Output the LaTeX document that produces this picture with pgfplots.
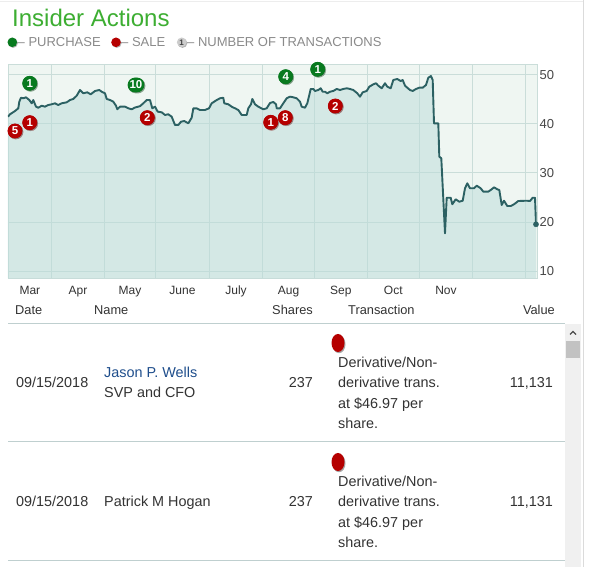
\documentclass[border=0pt]{standalone}
\usepackage{fontspec}
\setmainfont{Liberation Sans}
\usepackage{pgfplots}
\pgfplotsset{compat=1.18}
\usepackage{pgfplotstable}
\usetikzlibrary{shadows}
\definecolor{titlegreen}{HTML}{3DAE32}
\definecolor{leggray}{HTML}{8A8A8A}
\definecolor{buygreen}{HTML}{087A1F}
\definecolor{sellred}{HTML}{B50000}
\definecolor{linecol}{HTML}{2C6163}
\definecolor{plotbg}{HTML}{EFF6F2}
\definecolor{fillc}{HTML}{BBDCDA}
\definecolor{gridc}{HTML}{CADDD9}
\definecolor{sepc}{HTML}{BFCFCF}
\definecolor{txt}{HTML}{333333}
\definecolor{namblue}{HTML}{1F4E8C}
\tikzset{mknode/.style={rounded corners=7.4pt, minimum height=14.8pt, minimum width=14.8pt,
     inner xsep=2pt, inner ysep=0pt, text=white,
     font=\bfseries\fontsize{11.5}{12}\selectfont,
     drop shadow={shadow xshift=0.8pt, shadow yshift=-0.8pt, opacity=0.35, fill=black}}}

\pgfplotstableread{
x y
8 41.44
10 41.93
15 42.60
18.3 43.15
19.3 44.50
21 45.31
23.3 45.19
26 45.39
29.3 44.84
31.7 44.17
33.3 44.84
36 43.48
38.3 43.27
41.7 43.68
45 43.48
48.3 43.82
51.7 43.97
55 44.17
58.3 43.82
61.7 44.17
66.7 44.37
70 44.84
73.3 45.05
76.7 45.72
80 46.88
83.3 46.21
87.3 46.41
90.7 46.00
95 46.68
99.3 46.88
101.7 46.53
105 46.21
106.7 45.05
110 44.84
113.3 44.50
116 43.68
117.3 42.95
120 43.48
125 43.48
128.3 43.15
131.7 42.95
135 43.31
140 43.58
143.3 44.17
146.7 44.84
150 44.84
152.3 43.15
155 43.48
157.7 42.46
161.7 42.34
165 41.79
168.3 41.93
171.7 41.44
175 39.75
178.3 39.75
181 40.42
184.3 40.56
188.3 40.09
191.7 41.24
193.3 43.15
196.7 43.15
200 42.81
205 42.81
209 43.15
211.7 44.17
216.7 44.84
220 45.19
223.3 45.31
224.3 44.17
228.3 43.97
231.7 43.48
235 43.15
238.3 42.81
241.7 41.79
246.7 41.79
248.3 43.15
251 43.97
252.3 45.05
255 43.97
258.3 43.48
263.3 42.95
266.7 43.15
270 44.23
273.3 44.44
276 43.97
276.7 43.15
280 43.15
283.3 44.17
286.7 45.19
290 45.52
293.3 45.39
296.7 45.19
300 44.50
301.7 43.48
305 43.27
307.3 44.17
309.3 45.86
310.7 47.09
313.3 47.09
315 46.68
318.3 46.88
320.7 47.23
322.7 46.53
325 46.53
327.3 46.21
330 46.53
333.3 46.68
336.7 47.09
340 46.88
343.3 47.09
346.7 47.23
350 47.09
353.3 46.88
357.3 46.21
360 45.52
362.7 46.41
366.7 46.68
369.3 47.55
373.3 48.04
376 48.25
378.3 47.76
381.7 47.23
385 48.25
387.3 47.55
390.7 47.23
393.3 48.92
397.3 49.12
400.7 48.71
402.7 48.92
405 47.76
407.3 47.35
410 46.88
412.7 46.68
416 47.09
419.3 47.35
422.7 47.35
426 47.90
428.3 49.39
431 49.73
432.7 48.92
434 40.09
438.3 40.09
439.3 33.29
441.3 32.96
445 17.68
446.7 24.93
450.7 24.93
452.3 23.59
455.7 24.61
459.3 24.12
462.7 24.32
465 26.85
467.3 27.87
470 26.85
474 26.85
476.7 27.38
480.7 26.85
483.3 26.16
488.3 26.16
491.7 26.65
494 27.05
497.3 26.65
499.3 26.50
501.7 23.45
504 24.32
507.3 23.24
510.7 23.24
514 23.59
518.3 24.26
526.7 24.32
530 24.26
532.7 24.93
535 24.93
536 19.51
}\pricedata

\pgfplotstableread{
x y n
29.7 48.25 1
136 47.90 10
285.7 49.59 4
317.7 51.10 1
}\buys

\pgfplotstableread{
x y n
15 38.53 5
29.7 40.22 1
147.3 41.24 2
270.7 40.30 1
285.3 41.24 8
335.3 43.62 2
}\sells

\begin{document}
\begin{tikzpicture}
\fill[white] (0,0) rectangle (589pt,567pt);
\path[use as bounding box] (0,0) rectangle (589pt,567pt);

\begin{axis}[
  at={(8pt,288.7pt)}, anchor=south west,
  scale only axis, width=528.7pt, height=214.3pt,
  xmin=8, xmax=536.7, ymin=8.51, ymax=52.18,
  axis background/.style={fill=plotbg},
  axis line style={draw=gridc},
  grid=major, major grid style={draw=gridc, line width=0.8pt},
  xtick={8,51.7,104.3,155.7,209.3,262.7,314.3,367.3,419.3,472.7,525.7},
  xticklabels={Mar,Apr,May,June,July,Aug,Sep,Oct,Nov,{}},
  x tick label as interval,
  ytick={10,20,30,40,50},
  yticklabel pos=right,
  major tick length=0pt,
  tick style={draw=none},
  xticklabel style={font=\fontsize{12}{14}\selectfont, text=txt, yshift=-4.2pt},
  yticklabel style={font=\fontsize{13}{15}\selectfont, text=txt!90, anchor=west, xshift=-0.5pt},
  /pgf/number format/assume math mode=true,
  clip mode=individual,
]
\addplot[draw=none, fill=fillc, fill opacity=0.5] table[x=x,y=y]{\pricedata} \closedcycle;
\addplot[linecol, line width=1.9pt, line join=round, mark=none] table[x=x,y=y]{\pricedata};
\addplot[only marks, mark=*, mark size=2.6pt, color=linecol] coordinates {(536,19.51)};

\addplot[only marks, mark=*, mark size=7pt, color=buygreen,
  point meta=explicit symbolic,
  nodes near coords, nodes near coords align={center},
  every node near coord/.append style={mknode, fill=buygreen}]
  table[x=x,y=y,meta=n]{\buys};
\addplot[only marks, mark=*, mark size=7pt, color=sellred,
  point meta=explicit symbolic,
  nodes near coords, nodes near coords align={center},
  every node near coord/.append style={mknode, fill=sellred}]
  table[x=x,y=y,meta=n]{\sells};
\end{axis}

\begin{scope}[x=1pt, y=-1pt, shift={(0pt,567pt)}]
% frame lines
\draw[color=black!7, line width=1pt] (0,1.5) -- (583,1.5);
\draw[color=black!14, line width=1pt] (583.5,0) -- (583.5,567);
% title
\node[anchor=base west, inner sep=0pt, text=titlegreen, font=\fontsize{24}{28}\selectfont] at (12,26.7) {Insider Actions};
% legend
\fill[black!30] (13.1,43.1) circle (4.8pt);
\fill[buygreen] (12.3,42.3) circle (4.8pt);
\node[anchor=base west, inner sep=0pt, text=leggray, font=\fontsize{13}{15}\selectfont] at (17.5,46.7) {– PURCHASE};
\fill[black!30] (116.8,43.1) circle (4.8pt);
\fill[sellred] (116,42.3) circle (4.8pt);
\node[anchor=base west, inner sep=0pt, text=leggray, font=\fontsize{13}{15}\selectfont] at (121,46.7) {– SALE};
\fill[black!30] (182.5,43.1) circle (4.8pt);
\fill[black!20] (181.7,42.3) circle (4.8pt);
\node[inner sep=0pt, text=black!75, font=\bfseries\fontsize{8}{9}\selectfont] at (181.5,42.5) {1};
\node[anchor=base west, inner sep=0pt, text=leggray, font=\fontsize{13}{15}\selectfont] at (187,46.7) {– NUMBER OF TRANSACTIONS};

% table header
\begin{scope}[every node/.style={inner sep=0pt, text=txt, font=\fontsize{12.8}{15}\selectfont}]
\node[anchor=base west] at (15,314.5) {Date};
\node[anchor=base west] at (94,314.5) {Name};
\node[anchor=base east] at (313,314.5) {Shares};
\node[anchor=base west] at (348,314.5) {Transaction};
\node[anchor=base east] at (555,314.5) {Value};
\end{scope}
\draw[sepc, line width=1pt] (8,324) -- (565,324);
\draw[sepc, line width=1pt] (8,442) -- (565,442);
\draw[sepc, line width=1pt] (8,561) -- (565,561);

% rows
\begin{scope}[every node/.style={inner sep=0pt, text=txt, font=\fontsize{14.4}{17}\selectfont}]
\fill[black!35] (339,344.2) ellipse (6.5pt and 9pt);
\fill[sellred] (338,343) ellipse (6.5pt and 9pt);
\node[anchor=base west] at (16,388) {09/15/2018};
\node[anchor=base west, text=namblue] at (104,378) {Jason P. Wells};
\node[anchor=base west] at (104,398) {SVP and CFO};
\node[anchor=base east] at (313,388) {237};
\node[anchor=base west] at (338,368) {Derivative/Non-};
\node[anchor=base west] at (338,388) {derivative trans.};
\node[anchor=base west] at (338,409) {at \$46.97 per};
\node[anchor=base west] at (338,429) {share.};
\node[anchor=base east] at (553,388) {11,131};

\fill[black!35] (339,463.2) ellipse (6.5pt and 9pt);
\fill[sellred] (338,462) ellipse (6.5pt and 9pt);
\node[anchor=base west] at (16,507) {09/15/2018};
\node[anchor=base west] at (104,507) {Patrick M Hogan};
\node[anchor=base east] at (313,507) {237};
\node[anchor=base west] at (338,487) {Derivative/Non-};
\node[anchor=base west] at (338,507) {derivative trans.};
\node[anchor=base west] at (338,528) {at \$46.97 per};
\node[anchor=base west] at (338,548) {share.};
\node[anchor=base east] at (553,507) {11,131};
\end{scope}

% scrollbar
\fill[black!6] (565,324.5) rectangle (581,567);
\fill[black!24] (566,341) rectangle (580,358);
\draw[black!70, line width=1.3pt] (570,334.5) -- (573,331.5) -- (576,334.5);
\end{scope}
\end{tikzpicture}
\end{document}
